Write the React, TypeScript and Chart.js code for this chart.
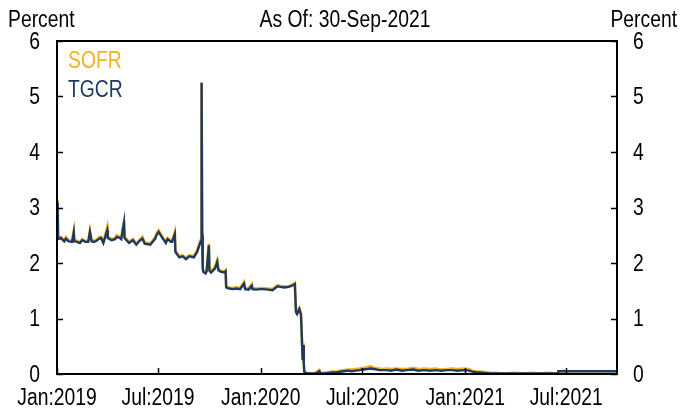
import React, { useEffect, useRef } from "react";
import { Chart, registerables } from "chart.js";

Chart.register(...registerables);

// ---- Data ----
const dates: string[] = [
  "2019-01-02", "2019-01-03", "2019-01-08", "2019-01-14", "2019-01-17", "2019-01-22", "2019-01-28", "2019-01-31",
  "2019-02-01", "2019-02-06", "2019-02-11", "2019-02-15", "2019-02-21", "2019-02-26", "2019-03-01", "2019-03-04",
  "2019-03-08", "2019-03-13", "2019-03-18", "2019-03-21", "2019-03-25", "2019-04-01", "2019-04-02", "2019-04-09",
  "2019-04-15", "2019-04-18", "2019-04-24", "2019-04-26", "2019-05-01", "2019-05-02", "2019-05-10", "2019-05-17",
  "2019-05-23", "2019-05-29", "2019-06-03", "2019-06-07", "2019-06-17", "2019-06-21", "2019-06-26", "2019-06-28",
  "2019-07-02", "2019-07-09", "2019-07-15", "2019-07-18", "2019-07-24", "2019-07-26", "2019-07-31", "2019-08-01",
  "2019-08-08", "2019-08-14", "2019-08-20", "2019-08-26", "2019-09-03", "2019-09-09", "2019-09-13", "2019-09-16",
  "2019-09-17", "2019-09-18", "2019-09-19", "2019-09-20", "2019-09-24", "2019-09-26", "2019-09-30", "2019-10-01",
  "2019-10-04", "2019-10-08", "2019-10-11", "2019-10-15", "2019-10-17", "2019-10-22", "2019-10-28", "2019-10-30",
  "2019-10-31", "2019-11-05", "2019-11-12", "2019-11-18", "2019-11-25", "2019-12-02", "2019-12-04", "2019-12-10",
  "2019-12-16", "2019-12-17", "2019-12-24", "2019-12-31", "2020-01-06", "2020-01-14", "2020-01-22", "2020-01-31",
  "2020-02-05", "2020-02-12", "2020-02-20", "2020-02-26", "2020-03-02", "2020-03-04", "2020-03-06", "2020-03-10",
  "2020-03-13", "2020-03-16", "2020-03-17", "2020-03-18", "2020-03-19", "2020-03-24", "2020-04-01", "2020-04-08",
  "2020-04-15", "2020-04-17", "2020-04-24", "2020-05-01", "2020-05-08", "2020-05-15", "2020-05-22", "2020-05-29",
  "2020-06-05", "2020-06-12", "2020-06-19", "2020-06-26", "2020-07-02", "2020-07-10", "2020-07-15", "2020-07-22",
  "2020-07-31", "2020-08-07", "2020-08-14", "2020-08-21", "2020-08-31", "2020-09-10", "2020-09-18", "2020-09-30",
  "2020-10-09", "2020-10-20", "2020-10-30", "2020-11-09", "2020-11-19", "2020-11-30", "2020-12-09", "2020-12-18",
  "2020-12-31", "2021-01-08", "2021-01-15", "2021-01-22", "2021-01-28", "2021-02-05", "2021-02-15", "2021-02-25",
  "2021-03-10", "2021-03-31", "2021-04-15", "2021-04-30", "2021-05-14", "2021-05-28", "2021-06-16", "2021-06-17",
  "2021-07-15", "2021-08-16", "2021-09-15", "2021-09-30",
];

const sofr: number[] = [
  3.15, 2.45, 2.47, 2.40, 2.47, 2.41, 2.40, 2.58,
  2.41, 2.40, 2.37, 2.43, 2.40, 2.40, 2.59, 2.41,
  2.40, 2.42, 2.47, 2.47, 2.38, 2.65, 2.47, 2.43,
  2.45, 2.50, 2.47, 2.45, 2.76, 2.47, 2.38, 2.43,
  2.35, 2.42, 2.47, 2.37, 2.35, 2.40, 2.47, 2.53,
  2.59, 2.47, 2.38, 2.45, 2.40, 2.40, 2.56, 2.23,
  2.12, 2.14, 2.09, 2.14, 2.12, 2.23, 2.35, 2.43,
  5.25, 2.55, 1.95, 1.86, 1.83, 1.87, 2.35, 1.88,
  1.85, 1.90, 1.93, 2.05, 1.90, 1.86, 1.85, 1.87,
  1.58, 1.56, 1.55, 1.56, 1.55, 1.66, 1.55, 1.54,
  1.62, 1.55, 1.54, 1.55, 1.55, 1.54, 1.53, 1.60,
  1.59, 1.58, 1.58, 1.61, 1.64, 1.14, 1.10, 1.19,
  1.10, 0.26, 0.55, 0.20, 0.04, 0.01, 0.01, 0.02,
  0.07, 0.02, 0.02, 0.03, 0.05, 0.04, 0.06, 0.07,
  0.08, 0.08, 0.09, 0.10, 0.11, 0.12, 0.14, 0.11,
  0.10, 0.09, 0.10, 0.09, 0.10, 0.09, 0.09, 0.11,
  0.09, 0.10, 0.09, 0.10, 0.08, 0.09, 0.10, 0.09,
  0.10, 0.09, 0.05, 0.05, 0.04, 0.04, 0.02, 0.02,
  0.01, 0.02, 0.01, 0.02, 0.01, 0.02, 0.01, 0.05,
  0.05, 0.05, 0.05, 0.05,
];

const tgcr: number[] = [
  3.10, 2.43, 2.45, 2.39, 2.44, 2.39, 2.38, 2.55,
  2.39, 2.38, 2.36, 2.41, 2.38, 2.38, 2.56, 2.39,
  2.38, 2.40, 2.44, 2.45, 2.36, 2.59, 2.45, 2.41,
  2.43, 2.47, 2.45, 2.43, 2.73, 2.45, 2.36, 2.41,
  2.33, 2.40, 2.44, 2.35, 2.33, 2.38, 2.44, 2.50,
  2.56, 2.45, 2.36, 2.43, 2.38, 2.38, 2.52, 2.20,
  2.10, 2.12, 2.07, 2.12, 2.10, 2.20, 2.32, 2.40,
  5.25, 2.50, 1.90, 1.84, 1.81, 1.85, 2.32, 1.86,
  1.83, 1.87, 1.90, 2.02, 1.87, 1.84, 1.83, 1.85,
  1.56, 1.54, 1.53, 1.54, 1.53, 1.63, 1.53, 1.52,
  1.59, 1.53, 1.52, 1.53, 1.53, 1.52, 1.51, 1.58,
  1.57, 1.56, 1.57, 1.59, 1.62, 1.12, 1.08, 1.17,
  1.07, 0.25, 0.52, 0.18, 0.03, 0.01, 0.01, 0.01,
  0.05, 0.01, 0.01, 0.02, 0.03, 0.03, 0.04, 0.05,
  0.06, 0.05, 0.06, 0.07, 0.08, 0.09, 0.10, 0.09,
  0.07, 0.07, 0.07, 0.06, 0.08, 0.06, 0.07, 0.08,
  0.06, 0.07, 0.06, 0.07, 0.06, 0.07, 0.07, 0.06,
  0.07, 0.06, 0.04, 0.03, 0.03, 0.02, 0.01, 0.01,
  0.01, 0.01, 0.01, 0.01, 0.01, 0.01, 0.01, 0.05,
  0.05, 0.05, 0.05, 0.05,
];

const tickDates: string[] = ["2019-01-01", "2019-07-01", "2020-01-01", "2020-07-01", "2021-01-01", "2021-07-01"];
const tickLabels: string[] = ["Jan:2019", "Jul:2019", "Jan:2020", "Jul:2020", "Jan:2021", "Jul:2021"];
const axisStart = "2019-01-01";
const axisEnd = "2021-09-30";
const yTicks: number[] = [0, 1, 2, 3, 4, 5, 6];
const titleText = "As Of: 30-Sep-2021";
const unitText = "Percent";
const seriesNames: string[] = ["SOFR", "TGCR"];
const seriesColors: string[] = ["#F0B323", "#1F3A60"];

const FONT_FAMILY = '"Liberation Sans", Arial, sans-serif';
const FONT_SIZE = 23;
const SQUEEZE = 0.84; // narrow, tall lettering as in the reference

function dayIndex(s: string): number {
  const [y, m, d] = s.split("-").map(Number);
  const [y0, m0, d0] = axisStart.split("-").map(Number);
  return (Date.UTC(y, m - 1, d) - Date.UTC(y0, m0 - 1, d0)) / 86400000;
}

const tickDays = tickDates.map(dayIndex);

function drawText(ctx: CanvasRenderingContext2D, text: string, x: number, y: number, align: CanvasTextAlign, color = "#000") {
  ctx.save();
  ctx.translate(x, y);
  ctx.scale(SQUEEZE, 1);
  ctx.font = `${FONT_SIZE}px ${FONT_FAMILY}`;
  ctx.fillStyle = color;
  ctx.textAlign = align;
  ctx.textBaseline = "alphabetic";
  ctx.fillText(text, 0, 0);
  ctx.restore();
}

const decoPlugin = {
  id: "deco",
  afterDraw(chart: any) {
    const { ctx, chartArea } = chart;
    const { left, right, top, bottom } = chartArea;
    ctx.save();
    const xs = chart.scales.x;
    const ys = chart.scales.y;
    // inward tick marks
    ctx.strokeStyle = "#000";
    ctx.lineWidth = 1.5;
    const tl = 6;
    ctx.beginPath();
    tickDays.forEach((d) => {
      const px = Math.round(xs.getPixelForValue(d)) + 0.5;
      ctx.moveTo(px, bottom);
      ctx.lineTo(px, bottom - tl);
    });
    yTicks.forEach((v) => {
      const py = Math.round(ys.getPixelForValue(v)) + 0.5;
      ctx.moveTo(left, py);
      ctx.lineTo(left + tl, py);
      ctx.moveTo(right, py);
      ctx.lineTo(right - tl, py);
    });
    ctx.stroke();
    // frame
    ctx.lineWidth = 2;
    ctx.strokeRect(left, top, right - left, bottom - top);
    // tick labels
    tickDays.forEach((d, i) => {
      drawText(ctx, tickLabels[i], xs.getPixelForValue(d), bottom + 31, "center");
    });
    yTicks.forEach((v) => {
      const py = ys.getPixelForValue(v) + 7.5;
      drawText(ctx, String(v), left - 17, py, "right");
      drawText(ctx, String(v), right + 16, py, "left");
    });
    // header texts
    drawText(ctx, unitText, 8, 27, "left");
    drawText(ctx, unitText, 677, 27, "right");
    drawText(ctx, titleText, 345, 27, "center");
    // legend
    seriesNames.forEach((n, i) => {
      drawText(ctx, n, left + 11, top + 27 + i * 29, "left", seriesColors[i]);
    });
    ctx.restore();
  },
};

export default function App() {
  const ref = useRef<HTMLCanvasElement | null>(null);
  useEffect(() => {
    document.body.style.margin = "0";
    const canvas = ref.current;
    if (!canvas) return;
    const chart = new Chart(canvas, {
      type: "line",
      data: {
        datasets: [
          {
            label: seriesNames[0],
            data: dates.map((d, i) => ({ x: dayIndex(d), y: sofr[i] })),
            borderColor: seriesColors[0],
            borderWidth: 2.6,
            pointRadius: 0,
            tension: 0,
            order: 2,
          },
          {
            label: seriesNames[1],
            data: dates.map((d, i) => ({ x: dayIndex(d), y: tgcr[i] })),
            borderColor: seriesColors[1],
            borderWidth: 2.4,
            pointRadius: 0,
            tension: 0,
            order: 1,
          },
        ],
      },
      options: {
        responsive: false,
        animation: false,
        layout: { padding: { top: 41, left: 0, right: 0, bottom: 0 } },
        plugins: { legend: { display: false }, tooltip: { enabled: false } },
        scales: {
          x: {
            type: "linear",
            min: dayIndex(axisStart),
            max: dayIndex(axisEnd),
            grid: { display: false, drawTicks: false },
            border: { display: false },
            afterBuildTicks: (scale: any) => {
              scale.ticks = tickDays.map((v) => ({ value: v }));
            },
            afterFit: (scale: any) => {
              scale.height = 34;
            },
            ticks: { display: false, autoSkip: false },
          },
          y: {
            position: "left",
            min: 0,
            max: 6,
            grid: { display: false, drawTicks: false },
            border: { display: false },
            afterFit: (scale: any) => {
              scale.width = 57;
            },
            ticks: { display: false, stepSize: 1 },
          },
          y2: {
            position: "right",
            min: 0,
            max: 6,
            grid: { display: false, drawTicks: false },
            border: { display: false },
            afterFit: (scale: any) => {
              scale.width = 64;
            },
            ticks: { display: false, stepSize: 1 },
          },
        },
      },
      plugins: [decoPlugin],
    } as any);
    return () => chart.destroy();
  }, []);
  return (
    <div style={{ width: 681, height: 408, background: "#fff" }}>
      <canvas ref={ref} width={681} height={408} style={{ display: "block", width: 681, height: 408 }} />
    </div>
  );
}
